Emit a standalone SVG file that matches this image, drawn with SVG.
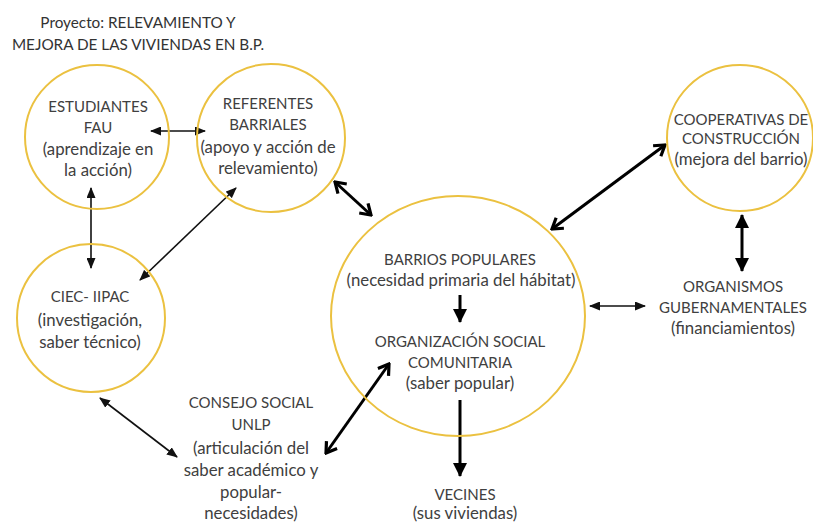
<svg xmlns="http://www.w3.org/2000/svg" width="813" height="524" viewBox="0 0 813 524">
<defs>
<style>
.c{fill:none;stroke:#EBC140;stroke-width:2}
.t{font-family:Lato,"Liberation Sans",sans-serif;font-size:15px;fill:#404040;text-anchor:middle}
.l{font-size:16.8px}
.ti{font-family:Lato,"Liberation Sans",sans-serif;font-size:15.3px;fill:#333;text-anchor:middle}
.thin{stroke:#111;stroke-width:1.6;fill:none}
.thick{stroke:#000;stroke-width:3;fill:none}
</style>
<marker id="ah" viewBox="0 0 11 9" refX="10" refY="4.5" markerWidth="11" markerHeight="9" markerUnits="userSpaceOnUse" orient="auto-start-reverse">
<path d="M0,0 L11,4.5 L0,9 Z" fill="#111"/>
</marker>
<marker id="av" viewBox="0 0 14 16" refX="12" refY="8" markerWidth="14" markerHeight="16" markerUnits="userSpaceOnUse" orient="auto-start-reverse">
<path d="M2,1.5 L12,8 L2,14.5" fill="none" stroke="#000" stroke-width="3.2"/>
</marker>
<marker id="as" viewBox="0 0 14 14" refX="13" refY="7" markerWidth="14" markerHeight="14" markerUnits="userSpaceOnUse" orient="auto-start-reverse">
<path d="M0,0 L14,7 L0,14 Z" fill="#000"/>
</marker>
</defs>
<rect width="813" height="524" fill="#fff"/>
<g id="title">
<text class="ti" x="138" y="28">Proyecto: RELEVAMIENTO Y</text>
<text class="ti" x="138" y="50">MEJORA DE LAS VIVIENDAS EN B.P.</text>
</g>
<g id="connectors">
<line class="thin" x1="151" y1="131" x2="205" y2="131" marker-start="url(#ah)" marker-end="url(#ah)"/>
<line class="thin" x1="91" y1="188" x2="91" y2="268" marker-start="url(#ah)" marker-end="url(#ah)"/>
<line class="thin" x1="236" y1="188" x2="140" y2="280" marker-start="url(#ah)" marker-end="url(#ah)"/>
<line class="thin" x1="100" y1="398" x2="177" y2="457" marker-start="url(#ah)" marker-end="url(#ah)"/>
<line class="thin" x1="590" y1="306" x2="645" y2="306" marker-start="url(#ah)" marker-end="url(#ah)"/>
<line class="thick" x1="335" y1="182" x2="371" y2="215" marker-start="url(#av)" marker-end="url(#av)"/>
<line class="thick" x1="552" y1="229" x2="665" y2="145" marker-start="url(#av)" marker-end="url(#av)"/>
<line class="thick" x1="326" y1="453" x2="389" y2="364" marker-start="url(#av)" marker-end="url(#av)"/>
<line class="thick" x1="742" y1="215" x2="742" y2="271" marker-start="url(#as)" marker-end="url(#as)"/>
<line class="thick" x1="460" y1="400" x2="460" y2="476" marker-end="url(#as)"/>
<line class="thick" x1="460" y1="295" x2="460" y2="322" stroke-width="2.5" marker-end="url(#as)"/>
</g>
<g id="estudiantes">
<circle class="c" cx="97" cy="137" r="72"/>
<text class="t" x="98" y="112">ESTUDIANTES</text>
<text class="t" x="98" y="133">FAU</text>
<text class="t l" x="98" y="155">(aprendizaje en</text>
<text class="t l" x="98" y="176">la acción)</text>
</g>
<g id="referentes">
<circle class="c" cx="271" cy="138" r="74"/>
<text class="t" x="268" y="109">REFERENTES</text>
<text class="t" x="268" y="130">BARRIALES</text>
<text class="t l" x="268" y="153">(apoyo y acción de</text>
<text class="t l" x="268" y="174">relevamiento)</text>
</g>
<g id="ciec">
<circle class="c" cx="91" cy="318" r="74"/>
<text class="t" x="90" y="302">CIEC- IIPAC</text>
<text class="t l" x="90" y="326">(investigación,</text>
<text class="t l" x="90" y="348">saber técnico)</text>
</g>
<g id="barrios">
<ellipse class="c" cx="458" cy="316" rx="127" ry="120"/>
<text class="t" x="460" y="265">BARRIOS POPULARES</text>
<text class="t l" x="461" y="286">(necesidad primaria del hábitat)</text>
<text class="t" x="460" y="347">ORGANIZACIÓN SOCIAL</text>
<text class="t" x="460" y="368">COMUNITARIA</text>
<text class="t l" x="460" y="389">(saber popular)</text>
</g>
<g id="cooperativas">
<circle class="c" cx="740" cy="138" r="73"/>
<text class="t" x="741" y="125">COOPERATIVAS DE</text>
<text class="t" x="741" y="144">CONSTRUCCIÓN</text>
<text class="t l" x="741" y="165">(mejora del barrio)</text>
</g>
<g id="organismos">
<text class="t" x="733" y="292">ORGANISMOS</text>
<text class="t" x="733" y="313">GUBERNAMENTALES</text>
<text class="t l" x="733" y="334">(financiamientos)</text>
</g>
<g id="consejo">
<text class="t" x="251" y="408">CONSEJO SOCIAL</text>
<text class="t" x="251" y="430">UNLP</text>
<text class="t l" x="251" y="454">(articulación del</text>
<text class="t l" x="251" y="476">saber académico y</text>
<text class="t l" x="251" y="498">popular-</text>
<text class="t l" x="251" y="519">necesidades)</text>
</g>
<g id="vecines">
<text class="t" x="465" y="500">VECINES</text>
<text class="t l" x="465" y="519">(sus viviendas)</text>
</g>
</svg>
